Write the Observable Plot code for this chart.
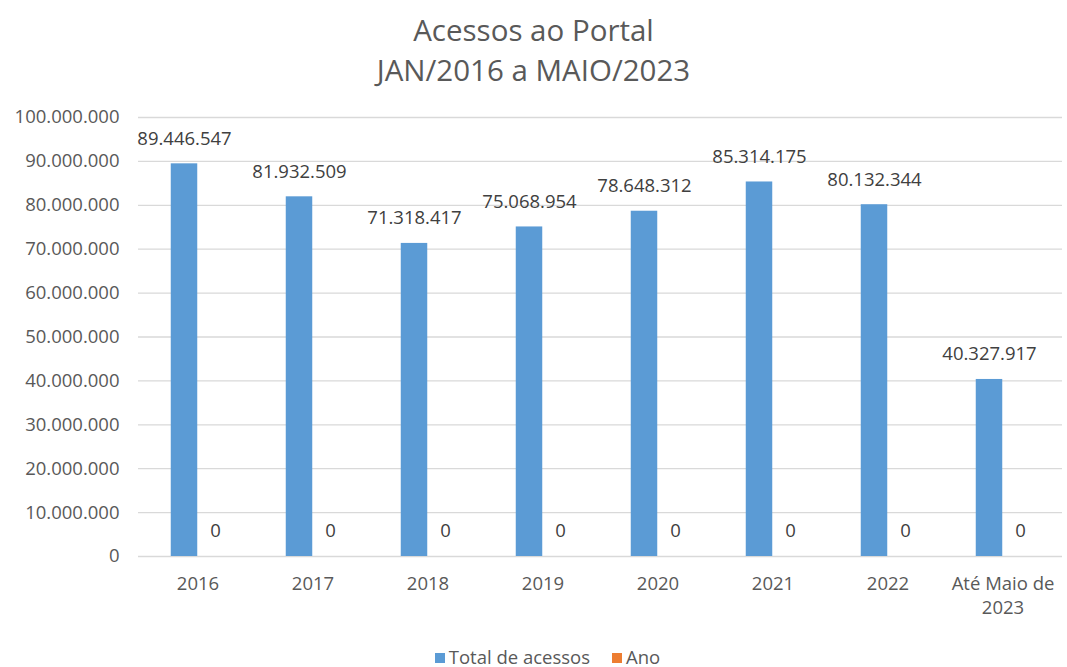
<!DOCTYPE html>
<html>
<head>
<meta charset="utf-8">
<script src="https://cdn.jsdelivr.net/npm/d3@7"></script>
<script src="https://cdn.jsdelivr.net/npm/@observablehq/plot@0.6"></script>
<style>
  body { margin: 0; background: #fff; font-family: "Open Sans", sans-serif; color: #595959; }
  #title { height: 95px; text-align: center; font-size: 29.5px; line-height: 40px; padding-top: 10px; box-sizing: border-box; }
  #legend { display: flex; justify-content: center; align-items: center; gap: 22px; font-size: 18.5px; margin-top: 19px; padding-left: 28px; }
  .sw { display: inline-block; width: 10px; height: 10px; margin-right: 4px; vertical-align: middle; position: relative; top: -1px; }
  #chart svg { display: block; }
</style>
</head>
<body>
<div id="title">Acessos ao Portal<br>JAN/2016 a MAIO/2023</div>
<div id="chart"></div>
<div id="legend"></div>
<script>
const categories = ["2016", "2017", "2018", "2019", "2020", "2021", "2022", "Até Maio de\n2023"];
const totalAcessos = [89446547, 81932509, 71318417, 75068954, 78648312, 85314175, 80132344, 40327917];
const ano = [0, 0, 0, 0, 0, 0, 0, 0];
const seriesNames = ["Total de acessos", "Ano"];
const seriesColors = ["#5b9bd5", "#ed7d31"];
const yTicks = [0, 10000000, 20000000, 30000000, 40000000, 50000000, 60000000, 70000000, 80000000, 90000000, 100000000];

const ptBR = d3.formatLocale({decimal: ",", thousands: ".", grouping: [3], currency: ["R$", ""]});
const fmt = ptBR.format(",d");

const dataTotal = categories.map((c, i) => ({cat: c, value: totalAcessos[i], series: seriesNames[0]}));
const dataAno = categories.map((c, i) => ({cat: c, value: ano[i], series: seriesNames[1]}));

const width = 1067, height = 530;
const marginLeft = 138, marginRight = 5;
const step = (width - marginLeft - marginRight) / categories.length;
const barW = 27;
const half = step / 2;

const chart = Plot.plot({
  width, height,
  marginTop: 22, marginBottom: 69, marginLeft, marginRight,
  style: {fontFamily: "Open Sans, sans-serif", fontSize: "18.5px", color: "#595959", background: "#fff"},
  x: {domain: categories, padding: 0, label: null},
  y: {domain: [0, 100000000], label: null},
  color: {domain: seriesNames, range: seriesColors},
  marks: [
    Plot.gridY(yTicks, {stroke: "#d9d9d9", strokeOpacity: 1, strokeWidth: 1.3}),
    Plot.axisY(yTicks, {tickSize: 0, tickPadding: 19, tickFormat: fmt, fontSize: 18.5, fill: "#595959", label: null}),
    Plot.axisX({tickSize: 0, tickPadding: 16, fontSize: 18.5, fill: "#595959", lineHeight: 1.3, label: null}),
    Plot.barY(dataTotal, {x: "cat", y: "value", fill: "series", insetLeft: half - barW, insetRight: half}),
    Plot.barY(dataAno, {x: "cat", y: "value", fill: "series", insetLeft: half, insetRight: half - barW}),
    Plot.text(dataTotal, {x: "cat", y: "value", text: d => fmt(d.value), dx: -barW / 2, dy: -25, fontSize: 18.5, fill: "#404040"}),
    Plot.text(dataAno, {x: "cat", y: "value", text: d => fmt(d.value), dx: barW / 2 + 4, dy: -25, fontSize: 18.5, fill: "#404040"})
  ]
});
document.getElementById("chart").appendChild(chart);

const legend = document.getElementById("legend");
seriesNames.forEach((s, i) => {
  const item = document.createElement("span");
  item.innerHTML = `<span class="sw" style="background:${seriesColors[i]}"></span>${s}`;
  legend.appendChild(item);
});
</script>
</body>
</html>
